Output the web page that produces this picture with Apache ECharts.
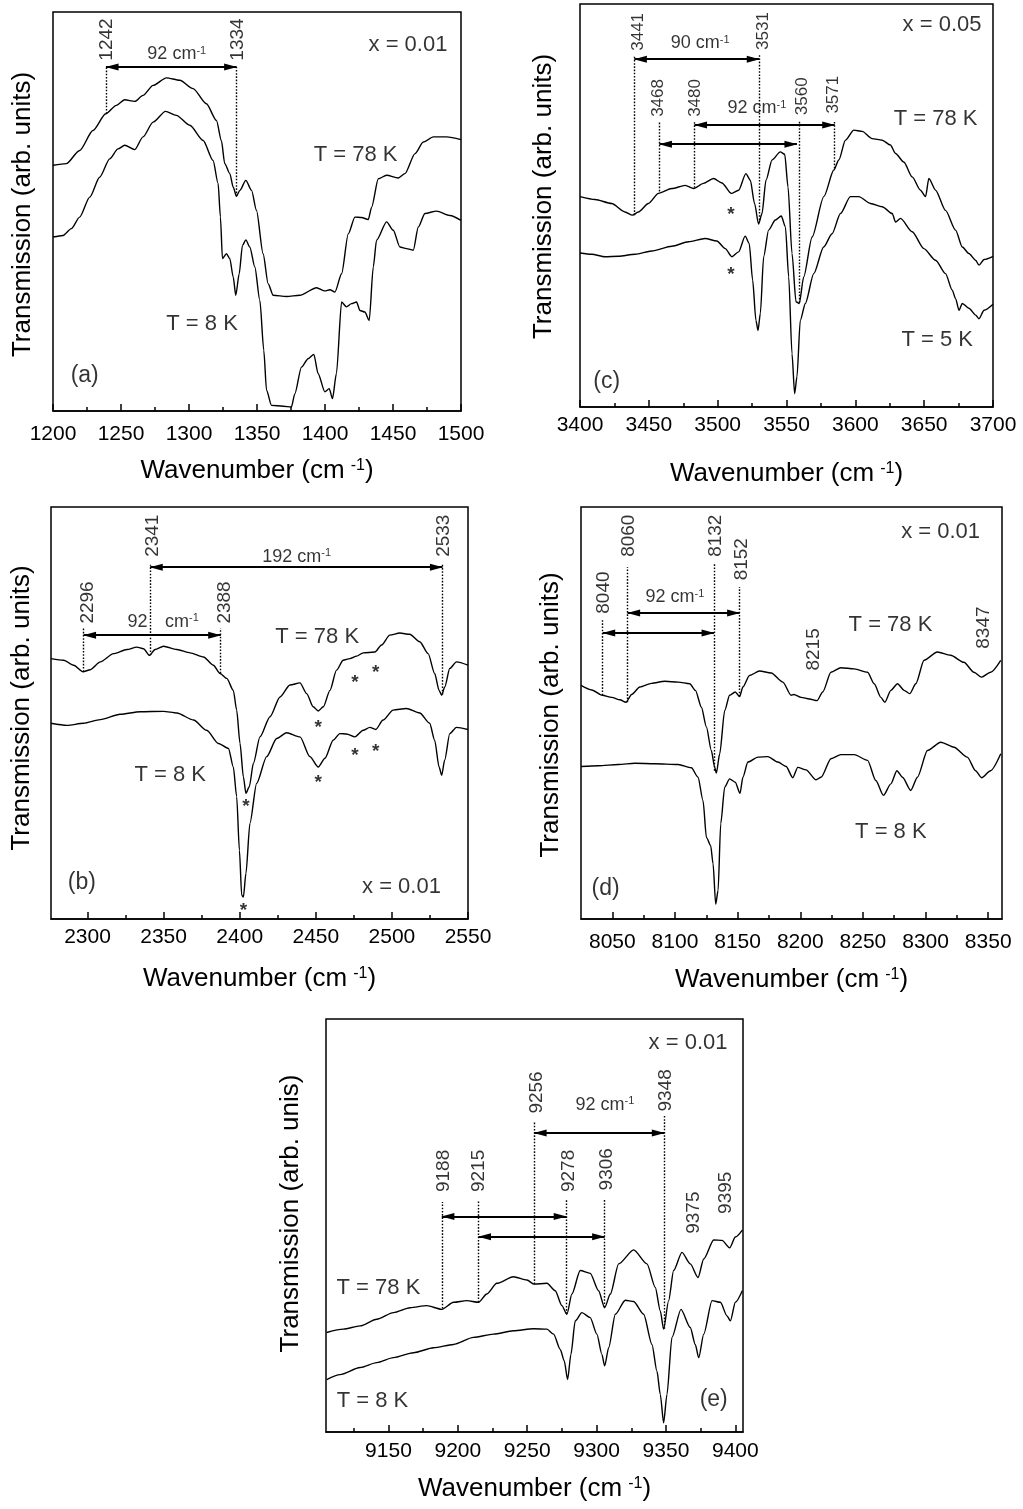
<!DOCTYPE html>
<html><head><meta charset="utf-8">
<script src="https://cdn.jsdelivr.net/npm/echarts@6/dist/echarts.min.js"></script>
<style>html,body{margin:0;padding:0;background:#fff}#c{width:1023px;height:1509px}</style>
</head><body><div id="c"></div>
<script>
// ---------------- DATA ----------------
// Panel (a)  x = 0.01
const A_T78 = [[1200,61.6],[1209.8,62.0],[1219.6,65.3],[1229.4,70.3],[1238.8,74.5],[1246.6,76.6],[1252.7,78.0],[1260.1,77.6],[1266.2,79.1],[1273.6,81.6],[1283.4,83.5],[1293.2,82.9],[1303,80.8],[1312.8,77.0],[1320.2,72.8],[1323.8,67.8],[1326.3,62.0],[1330,59.5],[1332.5,56.1],[1334.9,53.8],[1337.4,55.3],[1341.8,57.8],[1346,55.3],[1349.6,50.3],[1354.5,39.4],[1358.2,31.9],[1361.9,29.0],[1371.7,28.7],[1381.5,29.0],[1393.8,30.9],[1399.9,30.1],[1403.6,30.4],[1407.3,29.8],[1412.2,34.4],[1417.1,44.4],[1422,48.6],[1426.9,48.5],[1431.8,48.0],[1434.3,51.1],[1439.2,58.2],[1445.3,59.1],[1453.9,58.4],[1458.8,59.5],[1466.2,64.5],[1472.3,67.4],[1479.7,68.7],[1489.5,68.7],[1500,68.0]];
const A_T8 = [[1200,43.6],[1207.4,44.0],[1213.5,45.7],[1219.6,48.6],[1227,53.6],[1234.3,58.6],[1241.7,63.2],[1247.8,65.7],[1252.7,66.6],[1260.1,65.5],[1266.2,68.7],[1273.6,72.4],[1282.7,75.1],[1290.7,74.1],[1300.6,71.6],[1310.4,67.8],[1317.7,62.8],[1321.4,57.0],[1323.1,48.6],[1324.6,38.2],[1327.5,39.4],[1330,38.2],[1332.5,33.6],[1334.4,29.0],[1336.9,34.4],[1339.3,41.5],[1341.8,42.9],[1344.7,41.1],[1348.4,36.1],[1352.1,27.7],[1355,15.2],[1357,5.2],[1360.7,1.4],[1369.2,1.2],[1375.3,1.0],[1377.8,4.3],[1382.7,11.0],[1387.6,13.1],[1391.8,14.2],[1394.9,9.4],[1399.9,4.8],[1403.1,5.6],[1405.5,3.1],[1408.4,9.4],[1412.2,27.3],[1415.8,26.1],[1419.5,26.9],[1423.2,27.3],[1425.7,25.2],[1429.3,24.8],[1432.5,22.7],[1435.5,36.1],[1437.9,42.8],[1445.3,47.4],[1450.2,45.3],[1455.1,41.1],[1460,40.7],[1464.9,40.3],[1468.6,46.1],[1473.5,49.5],[1482.1,50.1],[1491.9,49.0],[1500,47.8]];
const A_MAJOR = [1200,1250,1300,1350,1400,1450,1500];
const A_MINOR = [1225,1275,1325,1375,1425,1475];
const A_VLINES = [[1239,74.5,86.2],[1335,53.8,86.2]];           // x, yFrom, yTo
const A_ARROWS = [[1239,1335,86.2]];                              // x1, x2, y
const A_RLABELS = [['1242',1239.5,87.8],['1334',1335.5,87.8]];   // text, x, yBottom
const A_TEXTS = [['92 cm{s|-1}',1291,89.4,18],['x = 0.01',1461,91.8,22],['T = 78 K',1422.5,64.1,22],['T = 8 K',1309.6,21.7,22],['(a)',1223.3,8.9,23]];
const A_STARS = [];

// Panel (b)  x = 0.01
const B_T78 = [[2276,63.2],[2284.3,62.8],[2290.9,61.6],[2297,60.0],[2301.8,60.5],[2308.4,62.4],[2317.1,64.4],[2325.9,65.4],[2332.4,66.0],[2336.8,65.6],[2340.7,64.0],[2344.4,65.4],[2349.9,66.2],[2358.7,65.4],[2367.4,64.6],[2376.2,63.6],[2382.7,61.6],[2387.1,59.6],[2391.5,58.4],[2395.8,55.5],[2398,50.7],[2400.2,42.6],[2402.4,34.5],[2404.1,30.5],[2406.3,32.1],[2409,37.8],[2413.3,44.2],[2419.9,49.1],[2426.5,53.9],[2433,56.8],[2439.6,57.3],[2444,54.7],[2448.3,51.5],[2451.6,50.5],[2454.9,51.5],[2459.3,55.5],[2463.6,60.4],[2468,62.8],[2472.4,63.2],[2476.8,63.8],[2481.1,64.6],[2488.8,64.8],[2493.2,66.5],[2498.6,68.9],[2505.2,69.4],[2511.7,69.1],[2518.3,67.3],[2523.8,64.4],[2528.1,59.6],[2531,55.5],[2532.7,54.3],[2534.7,56.3],[2538,60.8],[2542.4,62.4],[2550,61.6]];
const B_T8 = [[2276,47.5],[2286.5,47.0],[2297.4,47.5],[2308.4,48.4],[2321.5,49.7],[2334.6,50.3],[2349.9,50.4],[2358.7,50.0],[2369.6,48.3],[2378.3,45.8],[2386,42.6],[2392.6,41.4],[2395.8,36.9],[2398,29.7],[2399.8,16.7],[2401.3,5.8],[2402.4,5.3],[2404.1,11.1],[2406.7,23.2],[2411.1,32.9],[2417.7,39.4],[2424.3,43.8],[2430.8,45.2],[2439.6,44.2],[2446.1,39.4],[2451.6,36.9],[2456,39.0],[2461.4,43.4],[2465.8,45.0],[2470.2,44.9],[2475.7,44.2],[2481.1,45.8],[2485.5,46.5],[2489.4,46.0],[2494.2,48.3],[2500.8,50.7],[2509.5,51.1],[2518.3,50.0],[2524.8,47.5],[2528.1,43.4],[2531,36.9],[2532.7,34.9],[2534.7,38.6],[2538,45.0],[2542.4,46.5],[2550,46.0]];
const B_MAJOR = [2300,2350,2400,2450,2500,2550];
const B_MINOR = [2325,2375,2425,2475,2525];
const B_VLINES = [[2297.4,60.0,70.5],[2341.2,64.0,86.0],[2387.5,59.6,70.5],[2533.2,54.5,86.0]];
const B_ARROWS = [[2297.4,2387.5,68.9],[2341.2,2533.2,85.4]];
const B_RLABELS = [['2296',2300,71.7],['2341',2343,87.9],['2388',2390.4,71.7],['2533',2534.3,87.9]];
const B_TEXTS = [['192 cm{s|-1}',2437.4,87.9,18],['92',2332.9,72.1,18],['cm{s|-1}',2362,72.1,18],['T = 78 K',2450.9,68.5,22],['T = 8 K',2354.3,34.9,22],['(b)',2296.3,8.7,23],['x = 0.01',2506.3,7.8,22]];
const B_STARS = [[2475.7,58.4],[2489.4,60.8],[2451.6,47.5],[2404.1,28.1],[2475.7,40.6],[2489.4,41.6],[2451.6,34.1],[2402.4,3.0]];

// Panel (c)  x = 0.05
const C_T78 = [[3400,52.2],[3410.9,51.5],[3423,50.5],[3432.7,48.4],[3438.1,47.6],[3442.4,48.4],[3449.7,50.5],[3457,53.0],[3466.7,54.2],[3476.4,55.0],[3482.5,54.2],[3489.7,55.5],[3497,56.7],[3503.1,55.6],[3509.9,53.0],[3515.2,53.8],[3520.5,57.9],[3523.7,56.3],[3526.8,50.5],[3529.7,45.4],[3532.2,48.0],[3535.1,56.3],[3539.5,61.3],[3545.5,63.3],[3548.7,62.7],[3551.1,54.6],[3554,38.1],[3556.9,26.1],[3559.3,25.7],[3562.5,32.3],[3568.6,42.2],[3577.1,52.2],[3584.4,58.8],[3588,61.3],[3592.8,66.2],[3598.9,68.7],[3605,68.4],[3612.2,66.6],[3619.5,66.2],[3625.5,65.0],[3629.2,62.9],[3635.2,60.8],[3641.3,57.1],[3647.3,53.8],[3651,52.2],[3653.4,56.7],[3658.3,53.8],[3665.5,48.8],[3672.8,43.9],[3677.7,39.7],[3682.5,38.1],[3687.4,36.4],[3689.8,35.2],[3693.5,36.6],[3700,37.4]];
const C_T5 = [[3400,38.2],[3408.5,37.9],[3418.2,37.3],[3427.9,37.4],[3440,37.9],[3452.1,38.7],[3466.7,39.9],[3478.8,41.0],[3490.9,41.8],[3499.4,41.2],[3505.5,39.3],[3510.3,37.3],[3515.2,38.5],[3520,42.4],[3522.9,40.6],[3525.4,31.5],[3527.8,21.5],[3529.3,19.0],[3531,23.2],[3533.4,37.3],[3537,43.9],[3541.9,46.4],[3546.2,47.4],[3549.2,44.7],[3551.6,32.3],[3554,13.2],[3555.9,3.3],[3557.6,7.5],[3560,21.5],[3563.7,25.7],[3569.8,33.1],[3577,39.7],[3583.1,43.0],[3589.2,48.0],[3596.4,52.2],[3602.5,52.2],[3611,50.5],[3619.5,49.7],[3626.8,48.0],[3629.2,45.9],[3632.8,46.8],[3641.3,43.5],[3649.8,39.3],[3658.3,36.4],[3665.5,33.1],[3670.4,29.0],[3672.8,26.9],[3675.3,24.0],[3677.7,25.7],[3682.5,24.5],[3687.4,22.8],[3689.8,21.9],[3693.5,24.0],[3700,25.5]];
const C_MAJOR = [3400,3450,3500,3550,3600,3650,3700];
const C_MINOR = [3425,3475,3525,3575,3625,3675];
const C_VLINES = [[3439.5,47.6,87.3],[3530.2,46.4,87.3],[3457.3,53.5,70.8],[3483.2,54.4,70.8],[3559.3,25.9,70.8],[3585,59.2,70.8]];
const C_ARROWS = [[3439.5,3530.2,86.3],[3457.7,3557.6,65.2],[3483.2,3585,70.0]];
const C_RLABELS = [['3441',3442.4,88.4],['3531',3533.4,88.6],['3468',3457,72.0],['3480',3483.7,72.0],['3560',3561.8,72.4],['3571',3584.3,72.8]];
const C_TEXTS = [['90 cm{s|-1}',3487.3,90.2,18],['92 cm{s|-1}',3528.5,74.1,18],['x = 0.05',3663,94.8,22],['T = 78 K',3658.3,71.6,22],['T = 5 K',3659.5,16.6,22],['(c)',3419.4,6.2,23]];
const C_STARS = [[3509.6,48.8],[3509.6,33.8]];

// Panel (d)  x = 0.01
const D_T78 = [[8025,56.7],[8033.6,55.6],[8042,54.3],[8049.5,53.8],[8056.1,53.2],[8060.9,52.6],[8065.4,54.5],[8072,56.3],[8081.3,57.2],[8091.9,57.7],[8102.5,57.5],[8111.8,57.1],[8116.3,55.5],[8121.1,51.4],[8125.1,46.6],[8129,40.9],[8131.7,36.8],[8133,35.4],[8135.7,40.1],[8139.7,50.6],[8143.6,54.3],[8148.1,55.1],[8151.6,54.0],[8154.2,56.3],[8159.5,59.1],[8167.5,60.2],[8176.8,59.7],[8186.1,57.5],[8192.7,54.3],[8194.8,54.5],[8200.7,53.8],[8207.3,53.4],[8213.4,53.0],[8217.9,55.1],[8224.5,59.9],[8232.5,61.0],[8243.1,60.7],[8253.7,59.9],[8259,57.1],[8264.3,53.8],[8267.5,52.6],[8272.3,55.5],[8277.6,57.1],[8282.9,55.5],[8287.4,54.7],[8292.2,57.1],[8298.8,62.8],[8309.4,64.8],[8320,64.0],[8330.6,62.3],[8338.6,59.9],[8344.7,58.7],[8351.9,59.9],[8360,62.8]];
const D_T8 = [[8025,37.0],[8038.9,37.2],[8054.8,37.5],[8068,37.8],[8084,37.7],[8102.5,37.5],[8113.1,36.7],[8118.4,34.4],[8122.4,28.7],[8125.1,19.8],[8128.5,17.8],[8130.4,13.4],[8132.5,3.6],[8134.4,6.9],[8136.5,23.1],[8139.7,32.0],[8143.6,34.0],[8148.1,33.2],[8151.9,30.5],[8154.2,34.4],[8158.2,38.1],[8166.2,39.3],[8174.1,39.4],[8182.1,38.1],[8188.7,37.0],[8194,34.3],[8198,36.8],[8204.6,36.2],[8212.6,33.8],[8216.6,34.4],[8224.5,38.9],[8232.5,39.9],[8243.1,39.9],[8253.7,38.5],[8260.3,33.6],[8266.4,30.0],[8272.3,32.8],[8277.1,36.0],[8281.6,34.4],[8288.2,31.2],[8293.5,34.4],[8301.5,40.9],[8312.1,42.9],[8322.7,41.7],[8333.3,39.3],[8339.9,36.0],[8344.7,34.3],[8351.9,36.0],[8360,40.1]];
const D_MAJOR = [8050,8100,8150,8200,8250,8300,8350];
const D_MINOR = [8075,8125,8175,8225,8275,8325];
const D_VLINES = [[8042.3,54.3,72.5],[8062.2,52.6,85.4],[8131.2,36.0,86.2],[8151.6,54.0,80.6]];
const D_ARROWS = [[8062.2,8151.6,74.3],[8042.3,8131.2,69.4]];
const D_RLABELS = [['8040',8042.8,74.1],['8060',8063.3,87.9],['8132',8132.8,87.9],['8152',8153.4,82.2],['8215',8210.7,60.3],['8347',8346.6,65.6]];
const D_TEXTS = [['92 cm{s|-1}',8099.9,78.1,18],['x = 0.01',8312,93.9,22],['T = 78 K',8272,71.3,22],['T = 8 K',8272.3,21.1,22],['(d)',8044.6,7.3,23]];
const D_STARS = [];

// Panel (e)  x = 0.01
const E_T78 = [[9105.5,24.1],[9117.5,24.9],[9129.6,25.7],[9141.6,27.3],[9153.6,28.9],[9165.6,30.1],[9177.6,30.6],[9188.5,29.7],[9196.9,31.4],[9206.5,31.8],[9214.9,31.4],[9220.9,33.4],[9228.1,36.0],[9240.1,37.6],[9249.8,36.8],[9255,35.8],[9264.2,36.0],[9270.2,34.2],[9275,30.6],[9278.6,28.5],[9282.2,33.4],[9288.2,39.1],[9295.4,38.4],[9301.4,34.2],[9305.8,30.1],[9309.9,33.4],[9315.9,40.7],[9326.7,44.1],[9336.3,40.7],[9342.3,35.0],[9345.9,29.3],[9348.3,24.9],[9351.9,31.8],[9355.5,39.1],[9361.5,43.5],[9367.5,40.7],[9373.1,37.4],[9377.2,41.9],[9384.4,46.5],[9390.4,46.4],[9395.9,44.6],[9400,47.2],[9405,48.9]];
const E_T8 = [[9105.5,12.7],[9115.1,13.9],[9129.6,15.6],[9141.6,16.8],[9153.6,18.0],[9168,19.2],[9182.5,20.4],[9196.9,21.2],[9211.3,22.9],[9225.7,23.7],[9240.1,24.5],[9254.6,25.0],[9264.2,24.9],[9269,23.7],[9273.8,20.0],[9276.7,17.2],[9279.1,12.7],[9281.5,18.8],[9284.6,26.9],[9289.4,28.9],[9295.4,27.7],[9300.2,23.7],[9303.8,18.8],[9305.8,16.0],[9308.7,20.4],[9313.5,28.5],[9320.7,31.9],[9326.7,31.6],[9333.9,28.5],[9339.9,21.2],[9343.5,14.7],[9345.9,9.1],[9348.3,2.2],[9350.7,9.1],[9354.3,22.9],[9360.8,29.7],[9367.5,25.3],[9371.1,21.2],[9373.6,18.0],[9377.2,23.7],[9383.2,31.8],[9389.2,31.4],[9394,28.1],[9396.4,26.9],[9400,31.4],[9405,34.2]];
const E_MAJOR = [9150,9200,9250,9300,9350,9400];
const E_MINOR = [9125,9175,9225,9275,9325,9375];
const E_VLINES = [[9188.5,29.9,55.7],[9214.9,31.4,56.1],[9255,35.8,75.1],[9278.1,28.6,56.1],[9305.8,30.2,56.5],[9348.8,25.0,76.7]];
const E_ARROWS = [[9255,9348.8,72.4],[9188.5,9278.1,52.2],[9214.9,9305.8,47.3]];
const E_RLABELS = [['9256',9257,77.1],['9348',9349.5,77.6],['9188',9190.1,58.1],['9215',9214.9,58.1],['9278',9279.8,58.1],['9306',9307.5,58.5],['9375',9370,48.0],['9395',9392.8,52.8]];
const E_TEXTS = [['92 cm{s|-1}',9306,79.2,18],['x = 0.01',9365.9,94.2,22],['T = 78 K',9142.8,35.0,22],['T = 8 K',9138.5,7.5,22],['(e)',9384.4,7.9,23]];
const E_STARS = [];

// ---------------- LAYOUT ----------------
const FONT = '"Liberation Sans", Arial, Helvetica, sans-serif';
// yShift: + moves the y title down, - moves it up (px)
const PANELS = [
  {grid:{left:53,top:12,width:408,height:399}, xmin:1200, xmax:1500, major:A_MAJOR, minor:A_MINOR, curves:[A_T78,A_T8], vlines:A_VLINES, arrows:A_ARROWS, rl:A_RLABELS, rlSize:19, texts:A_TEXTS, stars:A_STARS, yname:'Transmission (arb. units)', yGap:17, yShift:3, lblMargin:13, xGap:47},
  {grid:{left:51,top:507,width:417,height:412}, xmin:2276, xmax:2550, major:B_MAJOR, minor:B_MINOR, curves:[B_T78,B_T8], vlines:B_VLINES, arrows:B_ARROWS, rl:B_RLABELS, rlSize:19, texts:B_TEXTS, stars:B_STARS, yname:'Transmission (arb. units)', yGap:16, yShift:-5, lblMargin:8, xGap:47},
  {grid:{left:580,top:4,width:413,height:403}, xmin:3400, xmax:3700, major:C_MAJOR, minor:C_MINOR, curves:[C_T78,C_T5], vlines:C_VLINES, arrows:C_ARROWS, rl:C_RLABELS, rlSize:17, texts:C_TEXTS, stars:C_STARS, yname:'Transmission (arb. units)', yGap:23, yShift:-9, lblMargin:8, xGap:54},
  {grid:{left:581,top:507,width:421,height:412}, xmin:8025, xmax:8361, major:D_MAJOR, minor:D_MINOR, curves:[D_T78,D_T8], vlines:D_VLINES, arrows:D_ARROWS, rl:D_RLABELS, rlSize:19, texts:D_TEXTS, stars:D_STARS, yname:'Transmission (arb. units)', yGap:17, yShift:2, lblMargin:13, xGap:48},
  {grid:{left:326,top:1019,width:417,height:413}, xmin:9105, xmax:9405.5, major:E_MAJOR, minor:E_MINOR, curves:[E_T78,E_T8], vlines:E_VLINES, arrows:E_ARROWS, rl:E_RLABELS, rlSize:19, texts:E_TEXTS, stars:E_STARS, yname:'Transmission (arb. unis)', yGap:22, yShift:-12, lblMargin:9, xGap:44}
];

const RICH = {s:{fontSize:11, fontFamily:FONT, color:'#000', verticalAlign:'top'}};
const HIDDEN = {color:'rgba(0,0,0,0)'};
const HEAD = [7,13];
const HEAD_OFF = [0,6];
const grids=[], xAxes=[], yAxes=[], series=[];
PANELS.forEach((p,i)=>{
  grids.push(Object.assign({show:true, borderColor:'#000', borderWidth:1.5, backgroundColor:'transparent', containLabel:false}, p.grid));
  xAxes.push({type:'value', gridIndex:i, min:p.xmin, max:p.xmax,
    axisLine:{show:true, onZero:false, lineStyle:{color:'#000', width:1.5}},
    axisTick:{show:true, inside:true, length:7, customValues:p.major, lineStyle:{color:'#000', width:1.5}},
    axisLabel:{show:true, customValues:p.major, formatter:v=>String(v), fontSize:21, color:'#000', fontFamily:FONT, margin:p.lblMargin},
    splitLine:{show:false},
    name:'Wavenumber (cm{sup|-1})', nameLocation:'middle', nameGap:p.xGap,
    nameTextStyle:{fontSize:26, color:'#000', fontFamily:FONT, rich:{sup:{fontSize:16, fontFamily:FONT, color:'#000', verticalAlign:'top', padding:[0,0,0,6]}}}
  });
  xAxes.push({type:'value', gridIndex:i, min:p.xmin, max:p.xmax, position:'bottom',
    axisLine:{show:false}, axisLabel:{show:false}, splitLine:{show:false},
    axisTick:{show:true, inside:true, length:4, customValues:p.minor, lineStyle:{color:'#000', width:1.5}}
  });
  const pad = p.yShift>=0 ? [0,2*p.yShift,0,0] : [0,0,0,-2*p.yShift];
  yAxes.push({type:'value', gridIndex:i, min:0, max:100, axisLine:{show:false}, axisTick:{show:false}, axisLabel:{show:false}, splitLine:{show:false},
    name:p.yname, nameLocation:'middle', nameGap:p.yGap, nameTextStyle:{fontSize:26, color:'#000', fontFamily:FONT, padding:pad}});
  const xi = 2*i;
  p.curves.forEach((c,k)=>{
    const s = {type:'line', xAxisIndex:xi, yAxisIndex:i, data:c, showSymbol:false, symbol:'none', silent:true,
      smooth:0.25, smoothMonotone:'x', lineStyle:{color:'#000', width:1.4}};
    if(k===0){
      s.markLine = {silent:true, symbol:['none','none'], label:{show:false}, lineStyle:{color:'#000', width:1.4, type:[1.6,1.6]}, animation:false,
        data:p.vlines.map(v=>[{coord:[v[0],v[1]]},{coord:[v[0],v[2]]}])};
    } else {
      s.markLine = {silent:true, symbol:['arrow','arrow'], symbolSize:12, label:{show:false}, lineStyle:{color:'#000', width:1.8, type:'solid'}, animation:false,
        data:p.arrows.map(a=>[{coord:[a[0],a[2]], symbol:'triangle', symbolSize:HEAD, symbolOffset:HEAD_OFF},{coord:[a[1],a[2]], symbol:'triangle', symbolSize:HEAD, symbolOffset:HEAD_OFF}])};
    }
    series.push(s);
  });
  const lbl = (o)=>Object.assign({show:true, position:'inside', color:'#000', fontFamily:FONT}, o);
  series.push({type:'scatter', xAxisIndex:xi, yAxisIndex:i, symbol:'circle', symbolSize:1, silent:true, itemStyle:HIDDEN,
    data:p.rl.map(r=>({value:[r[1],r[2]], label:lbl({formatter:()=>r[0], rotate:90, align:'left', verticalAlign:'middle', fontSize:p.rlSize})}))});
  series.push({type:'scatter', xAxisIndex:xi, yAxisIndex:i, symbol:'circle', symbolSize:1, silent:true, itemStyle:HIDDEN,
    data:p.texts.map(t=>({value:[t[1],t[2]], label:lbl({formatter:()=>t[0], align:'center', verticalAlign:'middle', fontSize:t[3], rich:RICH})}))});
  if(p.stars.length){
    series.push({type:'scatter', xAxisIndex:xi, yAxisIndex:i, symbol:'circle', symbolSize:1, silent:true, itemStyle:HIDDEN,
      data:p.stars.map(t=>({value:t, label:lbl({formatter:()=>'*', align:'center', verticalAlign:'middle', offset:[0,4], fontSize:19, fontWeight:'bold'})}))});
  }
});

const chart = echarts.init(document.getElementById('c'), null, {renderer:'canvas'});
chart.setOption({animation:false, backgroundColor:'#fff', grid:grids, xAxis:xAxes, yAxis:yAxes, series:series});
</script></body></html>
